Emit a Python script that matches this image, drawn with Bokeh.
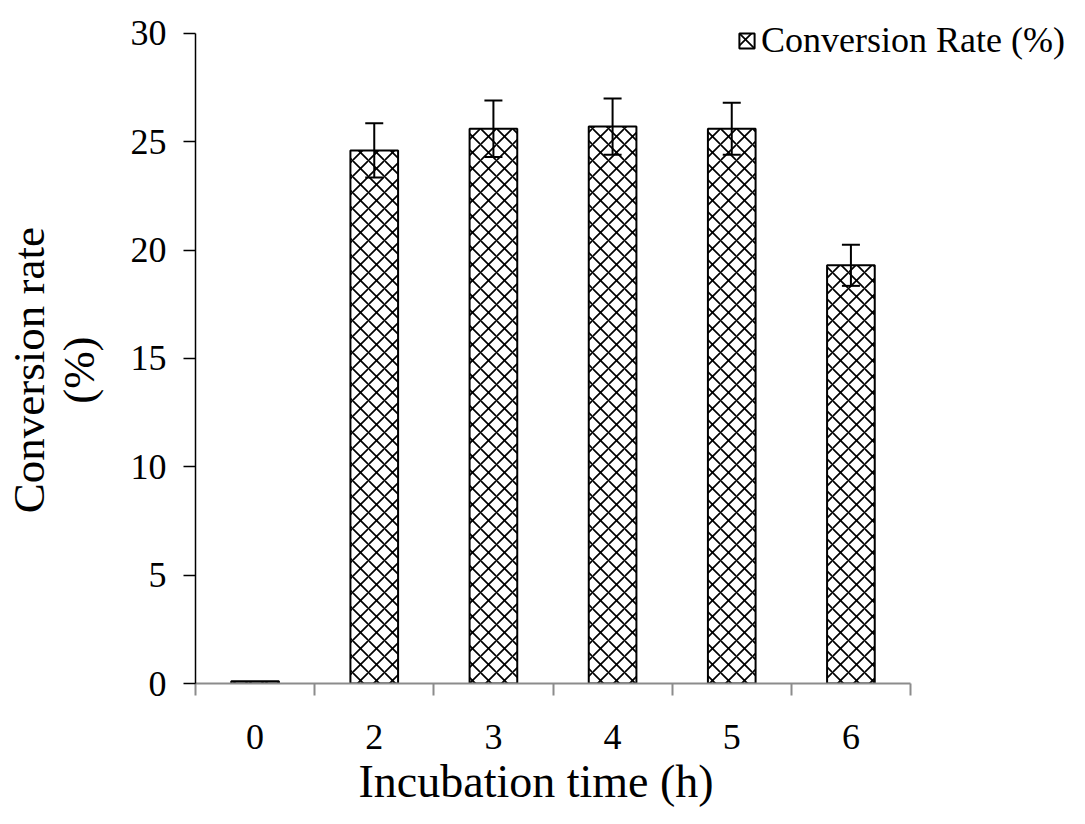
from bokeh.plotting import figure
from bokeh.models import (ColumnDataSource, Whisker, TeeHead, FixedTicker, Legend,
                          LegendItem, Range1d, Title)
from bokeh.embed import file_html
from bokeh.resources import INLINE

categories = ["0", "2", "3", "4", "5", "6"]
conversion = [0.1, 24.6, 25.6, 25.7, 25.6, 19.3]
errors = [0.0, 1.25, 1.3, 1.3, 1.2, 0.95]
y_ticks = [0, 5, 10, 15, 20, 25, 30]

FONT = "Liberation Serif"

W, H = 1069, 808
LEFT, BOTTOM = 195, 123
AXIS_PX = 715          # length of the drawn x axis
Y_PX = 652             # length of the drawn y axis (0..30)
frame_w = W - LEFT
frame_h = H - BOTTOM

n = len(categories)
xs = [i + 0.5 for i in range(n)]
src = ColumnDataSource(dict(x=xs, top=conversion))
err_src = ColumnDataSource(dict(
    x=xs[1:], upper=[v + e for v, e in zip(conversion[1:], errors[1:])],
    lower=[v - e for v, e in zip(conversion[1:], errors[1:])],
))

y_max = y_ticks[-1]
p = figure(width=W, height=H, output_backend="svg", toolbar_location=None,
           x_range=Range1d(0, n * frame_w / AXIS_PX),
           y_range=Range1d(0, y_max * frame_h / Y_PX))
p.min_border_left = LEFT
p.min_border_right = 0
p.min_border_top = 0
p.min_border_bottom = BOTTOM
p.outline_line_color = None
p.grid.grid_line_color = None
p.background_fill_color = "white"

r = p.vbar(x="x", top="top", width=0.4, source=src, fill_color="white",
           line_color="black", line_width=2, hatch_pattern="x", hatch_color="black",
           hatch_scale=16, hatch_weight=1.7)

w = Whisker(base="x", upper="upper", lower="lower", source=err_src,
            line_color="black", line_width=2, level="overlay",
            upper_head=TeeHead(size=18, line_width=2, line_color="black"),
            lower_head=TeeHead(size=18, line_width=2, line_color="black"))
p.add_layout(w)

# y axis
PAD = "\u00a0" * 5   # shifts the centred title slightly downwards, as in the reference
ya = p.yaxis[0]
ya.bounds = (0, y_max)
ya.ticker = FixedTicker(ticks=y_ticks)
ya.axis_line_color = "black"
ya.axis_line_width = 1.5
ya.major_tick_line_color = "black"
ya.major_tick_line_width = 1.5
ya.major_tick_out = 12
ya.major_tick_in = 0
ya.minor_tick_line_color = None
ya.major_label_text_font = FONT
ya.major_label_text_font_size = "36px"
ya.major_label_text_color = "black"
ya.major_label_standoff = 17
ya.axis_label = "Conversion rate" + PAD + "\n(%)" + PAD
ya.axis_label_text_font = FONT
ya.axis_label_text_font_size = "45px"
ya.axis_label_text_line_height = 1.0
ya.axis_label_text_font_style = "normal"
ya.axis_label_text_color = "black"
ya.axis_label_standoff = 24

# x axis
xa = p.xaxis[0]
xa.bounds = (0, n)
xa.ticker = FixedTicker(ticks=xs, minor_ticks=list(range(n + 1)))
xa.major_label_overrides = {x: c for x, c in zip(xs, categories)}
xa.axis_line_color = "#8c8c8c"
xa.axis_line_width = 2
xa.major_tick_line_color = None
xa.major_tick_out = 0
xa.major_tick_in = 0
xa.minor_tick_line_color = "#8c8c8c"
xa.minor_tick_line_width = 2
xa.minor_tick_out = 12
xa.minor_tick_in = 0
xa.major_label_text_font = FONT
xa.major_label_text_font_size = "36px"
xa.major_label_text_color = "black"
xa.major_label_standoff = 29

# x title (positioned like the reference, which is not centred on the frame)
p.add_layout(Title(text="Incubation time  (h)", align="left", offset=163, standoff=4,
                   text_font=FONT, text_font_size="46px", text_font_style="normal",
                   text_color="black"), "below")

legend = Legend(items=[LegendItem(label="Conversion Rate (%)", renderers=[r])])
legend.location = (542, frame_h - 63)
legend.label_text_font = FONT
legend.label_text_font_size = "36px"
legend.label_text_color = "black"
legend.border_line_color = None
legend.background_fill_alpha = 0
legend.glyph_width = 19
legend.glyph_height = 19
legend.label_standoff = 5
legend.padding = 0
legend.margin = 0
p.add_layout(legend, "center")

open("out.html", "w").write(file_html(p, INLINE))
